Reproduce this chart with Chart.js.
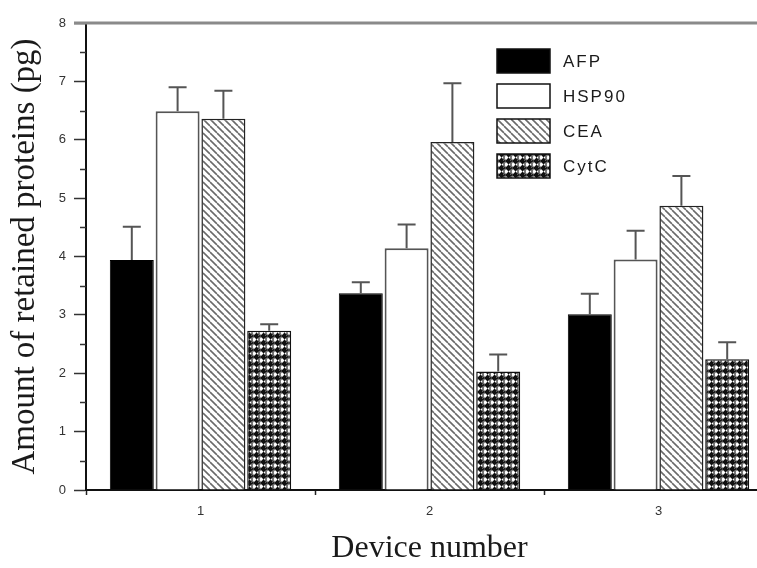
<!DOCTYPE html>
<html>
<head>
<meta charset="utf-8">
<script src="https://cdn.jsdelivr.net/npm/chart.js@4.4.1/dist/chart.umd.min.js"></script>
<style>
    html, body { margin: 0; padding: 0; background: #fff; overflow: hidden; }
    #wrap { width: 757px; height: 568px; overflow: hidden; }
</style>
</head>
<body>
<div id="wrap"><canvas id="chart" width="800" height="568"></canvas></div>
<script>
/* =========================================================
   DATA
   ========================================================= */
const devices = ["1", "2", "3"];
const proteinNames = ["AFP", "HSP90", "CEA", "CytC"];

const afpVals   = [3.94, 3.37, 3.01];
const hspVals   = [6.49, 4.14, 3.95];
const ceaVals   = [6.36, 5.96, 4.87];
const cytcVals  = [2.73, 2.03, 2.24];

// upper error (standard deviation)
const afpErr    = [0.57, 0.19, 0.35];
const hspErr    = [0.41, 0.41, 0.49];
const ceaErr    = [0.48, 1.01, 0.51];
const cytcErr   = [0.11, 0.29, 0.29];

const yTicksMax = 8;

/* =========================================================
   FILL PATTERNS
   ========================================================= */
function hatchPattern() {
    const c = document.createElement("canvas");
    c.width = 7; c.height = 7;
    const g = c.getContext("2d");
    g.fillStyle = "#fff";
    g.fillRect(0, 0, 7, 7);
    g.strokeStyle = "#6a6a6a";
    g.lineWidth = 1.6;
    // "\" direction lines, repeated so tile edges join
    for (let k = -7; k <= 7; k += 7) {
        g.beginPath();
        g.moveTo(k, 0);
        g.lineTo(k + 7, 7);
        g.stroke();
    }
    return g.createPattern(c, "repeat");
}

function dotPattern() {
    const c = document.createElement("canvas");
    c.width = 7; c.height = 7;
    const g = c.getContext("2d");
    g.fillStyle = "#707070";
    g.fillRect(0, 0, 7, 7);
    g.fillStyle = "#fff";
    g.beginPath();
    g.arc(3.5, 3.5, 2.6, 0, Math.PI * 2);
    g.fill();
    g.fillStyle = "#111";
    g.beginPath();
    g.arc(0, 0, 1.1, 0, Math.PI * 2);
    g.arc(7, 0, 1.1, 0, Math.PI * 2);
    g.arc(0, 7, 1.1, 0, Math.PI * 2);
    g.arc(7, 7, 1.1, 0, Math.PI * 2);
    g.fill();
    return g.createPattern(c, "repeat");
}

/* =========================================================
   PLUGINS: error bars, minor ticks, top frame, legend
   ========================================================= */
const errorBars = {
    id: "errorBars",
    afterDatasetsDraw(chart) {
        const { ctx, scales: { y } } = chart;
        ctx.save();
        ctx.strokeStyle = "#555";
        ctx.lineWidth = 2;
        chart.data.datasets.forEach((ds, di) => {
            const meta = chart.getDatasetMeta(di);
            meta.data.forEach((bar, i) => {
                const top = y.getPixelForValue(ds.data[i]);
                const hi = y.getPixelForValue(ds.data[i] + ds.errors[i]);
                ctx.beginPath();
                ctx.moveTo(bar.x, top);
                ctx.lineTo(bar.x, hi);
                ctx.moveTo(bar.x - 9, hi);
                ctx.lineTo(bar.x + 9, hi);
                ctx.stroke();
            });
        });
        ctx.restore();
    }
};

const frameAndMinor = {
    id: "frameAndMinor",
    afterDraw(chart) {
        const { ctx, chartArea, scales: { y } } = chart;
        ctx.save();
        // minor ticks at half units
        ctx.strokeStyle = "#333";
        ctx.lineWidth = 1.5;
        for (let v = 0.5; v < yTicksMax; v += 1) {
            const py = Math.round(y.getPixelForValue(v)) + 0.5;
            ctx.beginPath();
            ctx.moveTo(chartArea.left - 6, py);
            ctx.lineTo(chartArea.left, py);
            ctx.stroke();
        }
        // grey top frame line
        ctx.strokeStyle = "#8a8a8a";
        ctx.lineWidth = 3;
        ctx.beginPath();
        ctx.moveTo(chartArea.left - 12, chartArea.top);
        ctx.lineTo(chartArea.right, chartArea.top);
        ctx.stroke();
        ctx.restore();
    }
};

const boxLegend = {
    id: "boxLegend",
    afterDraw(chart) {
        const { ctx } = chart;
        ctx.save();
        ctx.font = "17px 'Liberation Sans', Arial, sans-serif";
        ctx.letterSpacing = "2px";
        ctx.textBaseline = "middle";
        chart.data.datasets.forEach((ds, i) => {
            const bx = 497, by = 49 + i * 35, bw = 53, bh = 24;
            ctx.fillStyle = ds.backgroundColor;
            ctx.fillRect(bx, by, bw, bh);
            ctx.strokeStyle = "#111";
            ctx.lineWidth = 1.5;
            ctx.strokeRect(bx, by, bw, bh);
            ctx.fillStyle = "#1a1a1a";
            ctx.fillText(ds.label, bx + 66, by + bh / 2 + 1);
        });
        ctx.restore();
    }
};

/* =========================================================
   CHART
   ========================================================= */
const tickFont = { family: "'Liberation Sans', Arial, sans-serif", size: 13 };
const titleFont = { family: "'Liberation Serif', 'Times New Roman', serif", size: 32 };

const barCommon = { barPercentage: 0.96, categoryPercentage: 0.8 };

new Chart(document.getElementById("chart").getContext("2d"), {
    type: "bar",
    data: {
        labels: devices,
        datasets: [
            { label: proteinNames[0], data: afpVals, errors: afpErr,
              backgroundColor: "#000", borderColor: "#000", borderWidth: 1, ...barCommon },
            { label: proteinNames[1], data: hspVals, errors: hspErr,
              backgroundColor: "#fff", borderColor: "#555", borderWidth: 2, ...barCommon },
            { label: proteinNames[2], data: ceaVals, errors: ceaErr,
              backgroundColor: hatchPattern(), borderColor: "#222", borderWidth: 1.5, ...barCommon },
            { label: proteinNames[3], data: cytcVals, errors: cytcErr,
              backgroundColor: dotPattern(), borderColor: "#111", borderWidth: 1.5, ...barCommon }
        ]
    },
    options: {
        responsive: false,
        animation: false,
        layout: { padding: { top: 23, right: 27, left: 0, bottom: 0 } },
        plugins: {
            legend: { display: false },
            tooltip: { enabled: false }
        },
        scales: {
            x: {
                afterFit: (s) => { s.height = 78; },
                grid: { drawOnChartArea: false, offset: true, tickLength: 5, tickColor: "#222", tickWidth: 1.5 },
                border: { color: "#111", width: 2 },
                ticks: { color: "#333", font: tickFont, padding: 9 },
                title: {
                    display: true, text: "Device number", color: "#1a1a1a",
                    font: titleFont, padding: { top: 4, bottom: 0 }
                }
            },
            y: {
                min: 0, max: yTicksMax,
                afterFit: (s) => { s.width = 86; },
                grid: { drawOnChartArea: false, tickLength: 12, tickColor: "#333", tickWidth: 1.5 },
                border: { color: "#111", width: 2 },
                ticks: { stepSize: 1, color: "#333", font: tickFont, padding: 8 },
                title: {
                    display: true, text: "Amount of retained proteins (pg)", color: "#1a1a1a",
                    font: { ...titleFont, size: 33 }, padding: { top: 6, bottom: 0 }
                }
            }
        }
    },
    plugins: [errorBars, frameAndMinor, boxLegend]
});
</script>
</body>
</html>
